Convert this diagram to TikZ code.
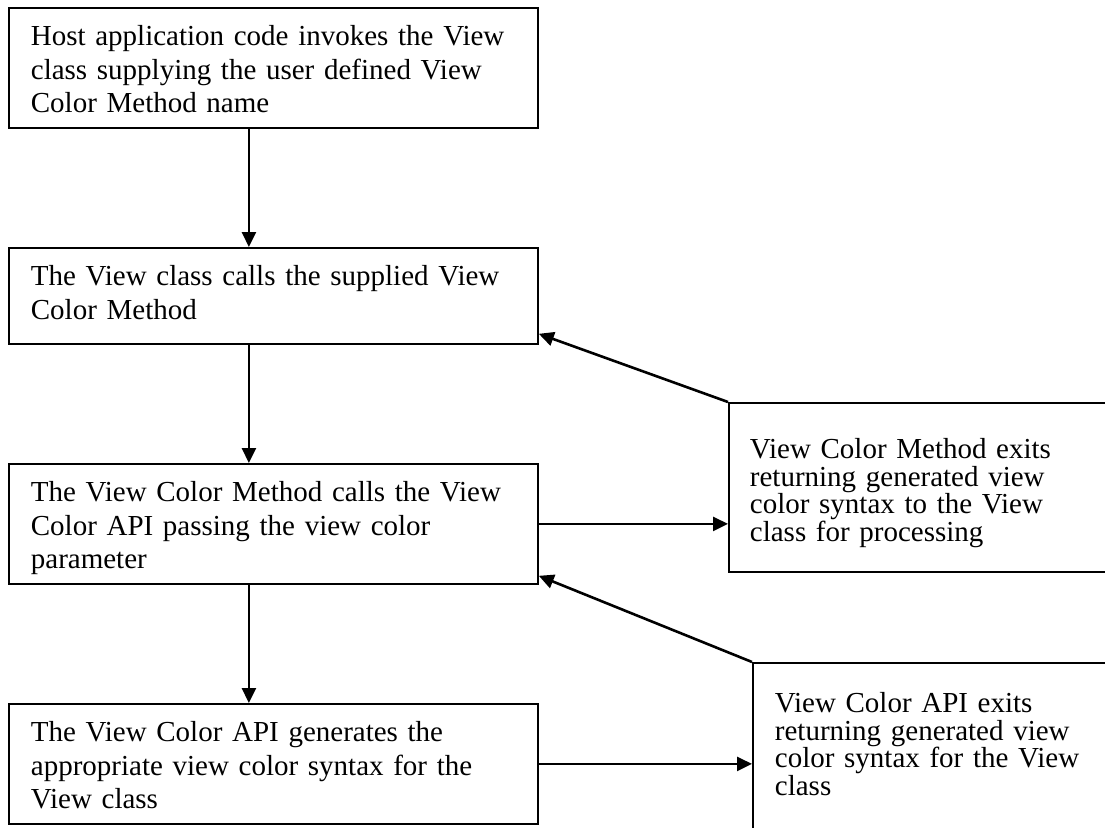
\documentclass[tikz,border=0pt]{standalone}
\usepackage{fontspec}
\setmainfont{Liberation Serif}
\usetikzlibrary{arrows.meta}
\tikzset{
  box/.style={draw, line width=1.8pt, anchor=north west, inner ysep=0pt, inner xsep=22pt,
    align=left, font=\fontsize{29}{33.3}\selectfont, text height=38pt},
  side/.style={box, font=\fontsize{29}{27.5}\selectfont},
  arr/.style={line width=2.6pt, -{Triangle[length=15pt,width=14pt]}}
}
\begin{document}
\begin{tikzpicture}[x=1pt,y=-1pt]
\clip (0,0) rectangle (1105,827);
\fill[white] (0,0) rectangle (1105,827);
\node[box, text width=485pt, text depth=82pt] (b1) at (8,7)
  {Host application code invokes the View\\class supplying the user defined View\\Color Method name};
\node[box, text width=485pt, text depth=58pt] (b2) at (8,247)
  {The View class calls the supplied View\\Color Method};
\node[box, text width=485pt, text depth=82pt] (b3) at (8,463)
  {The View Color Method calls the View\\Color API passing the view color\\parameter};
\node[box, text width=485pt, text depth=82pt] (b4) at (8,703)
  {The View Color API generates the\\appropriate view color syntax for the\\View class};
\node[side, inner xsep=21pt, text width=337pt, text height=56pt, text depth=113pt] (s1) at (728,402)
  {View Color Method exits\\returning generated view\\color syntax to the View\\class for processing};
\node[side, text width=312pt, text height=50pt, text depth=126pt] (s2) at (752,662)
  {View Color API exits\\returning generated view\\color syntax for the View\\class};
\draw[arr] ([xshift=-24.5pt]b1.south) -- ([xshift=-24.5pt]b2.north);
\draw[arr] ([xshift=-24.5pt]b2.south) -- ([xshift=-24.5pt]b3.north);
\draw[arr] ([xshift=-24.5pt]b3.south) -- ([xshift=-24.5pt]b4.north);
\draw[arr] (b3.east) -- (b3.east -| s1.west);
\draw[arr] (b4.east) -- (b4.east -| s2.west);
\draw[arr] (s1.north west) -- ([yshift=11pt]b2.south east);
\draw[arr] (s2.north west) -- ([yshift=9pt]b3.south east);
\end{tikzpicture}
\end{document}
